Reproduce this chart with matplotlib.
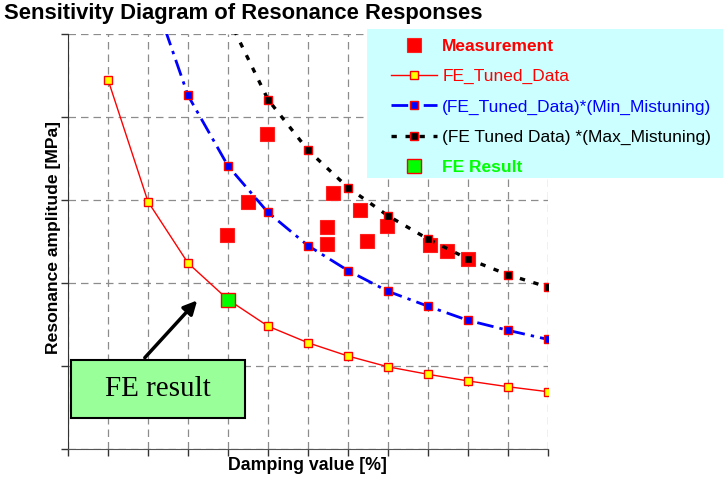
import matplotlib.pyplot as plt
from matplotlib.patches import Rectangle

plt.rcParams['font.family'] = ['Liberation Sans', 'DejaVu Sans']

# damping values and amplitudes
damping = [1, 2, 3, 4, 5, 6, 7, 8, 9, 10, 11, 12]
fe_tuned = [4.45, 2.98, 2.24, 1.80, 1.48, 1.28, 1.12, 0.99, 0.90, 0.82, 0.75, 0.69]

min_damping = [2, 3, 4, 5, 6, 7, 8, 9, 10, 11, 12]
min_mistuning = [5.65, 4.26, 3.41, 2.85, 2.45, 2.15, 1.90, 1.72, 1.55, 1.43, 1.32]

max_damping = [4, 5, 6, 7, 8, 9, 10, 11, 12]
max_mistuning = [5.20, 4.21, 3.60, 3.15, 2.81, 2.53, 2.29, 2.10, 1.95]

meas_damping = [3.98, 4.5, 4.98, 6.47, 6.47, 6.62, 7.3, 7.47, 7.98, 9.05, 9.48, 9.99]
meas_amp = [2.58, 2.97, 3.80, 2.47, 2.68, 3.09, 2.88, 2.51, 2.69, 2.46, 2.38, 2.29]

fe_result_damping = [4]
fe_result_amp = [1.80]

fig = plt.figure(figsize=(7.23, 4.78), dpi=100)
ax = fig.add_axes([68 / 723, 1 - 449 / 478, 480 / 723, 415 / 478])

ax.plot(meas_damping, meas_amp, ls='none', marker='s', ms=9.5,
        mfc='#ff0000', mec='#ff2020', mew=0.8, zorder=3, label='Measurement')
ax.plot(damping, fe_tuned, color='#ff0000', lw=1.0, marker='s', ms=5.5,
        mfc='#ffff00', mec='#ff0000', mew=1.0, zorder=4, label='FE_Tuned_Data')
ax.plot(min_damping, min_mistuning, color='#0000ff', lw=2.0,
        ls=(0, (6, 2.2, 1.2, 2.2)), marker='s', ms=5.8,
        mfc='#0000ff', mec='#ff0000', mew=1.0, zorder=4,
        label='(FE_Tuned_Data)*(Min_Mistuning)')
ax.plot(max_damping, max_mistuning, color='#000000', lw=2.4,
        ls=(0, (1.6, 2.6)), marker='s', ms=5.8,
        mfc='#000000', mec='#ff0000', mew=1.0, zorder=5,
        label='(FE Tuned Data) *(Max_Mistuning)')
ax.plot(fe_result_damping, fe_result_amp, ls='none', marker='s', ms=10,
        mfc='#00ff00', mec='#ff0000', mew=1.0, zorder=6, label='FE Result')

ax.set_xlim(0, 12)
ax.set_ylim(0, 5)
ax.set_xticks(range(0, 13))
ax.set_yticks(range(0, 6))
ax.tick_params(labelbottom=False, labelleft=False, length=5, width=1,
               color='#333333')
ax.grid(True, color='#8c8c8c', ls=(0, (6, 4)), lw=0.9)
ax.set_axisbelow(True)
for side in ('top', 'right'):
    ax.spines[side].set_visible(False)
ax.spines['left'].set_color('#333333')
ax.spines['bottom'].set_color('#555555')

fig.text(4 / 723, 1 - 14 / 478, 'Sensitivity Diagram of Resonance Responses',
         fontsize=15.8, fontweight='bold', va='center', ha='left')
fig.text(54 / 723, 1 - 237 / 478, 'Resonance amplitude [MPa]', fontsize=12.6,
         fontweight='bold', rotation=90, va='center', ha='center')
fig.text(307 / 723, 1 - 465 / 478, 'Damping value [%]', fontsize=12.8,
         fontweight='bold', va='center', ha='center')

# FE result callout
ax.add_patch(Rectangle((0.075, 0.373), 4.35, 0.70, facecolor='#99ff99',
                       edgecolor='#000000', lw=1.5, zorder=7))
ax.text(2.25, 0.72, 'FE result', family=['Liberation Serif', 'DejaVu Serif'],
        fontsize=21, ha='center', va='center', zorder=8)
ax.annotate('', xy=(3.23, 1.79), xytext=(1.92, 1.10),
            arrowprops=dict(arrowstyle='-|>', color='black', lw=2.5,
                            mutation_scale=20, shrinkA=0, shrinkB=0),
            zorder=8)

# legend panel
fig.patches.append(Rectangle((367 / 723, 1 - 178 / 478), 356 / 723, 149 / 478,
                             transform=fig.transFigure, facecolor='#ccffff',
                             edgecolor='none', zorder=5))
handles, labels = ax.get_legend_handles_labels()
leg = fig.legend(handles, labels, loc='upper left',
                 bbox_to_anchor=(391 / 723, 1 - 39 / 478), frameon=False,
                 fontsize=12.5, handlelength=2.65, handletextpad=0.3,
                 labelspacing=0.86, borderpad=0, borderaxespad=0)
leg.set_zorder(6)
text_colors = ['#ff0000', '#ff0000', '#0000ff', '#000000', '#00ff00']
for t, c in zip(leg.get_texts(), text_colors):
    t.set_color(c)
leg.get_texts()[0].set_fontweight('bold')
leg.get_texts()[4].set_fontweight('bold')

fig.savefig('out.png', dpi=100)
